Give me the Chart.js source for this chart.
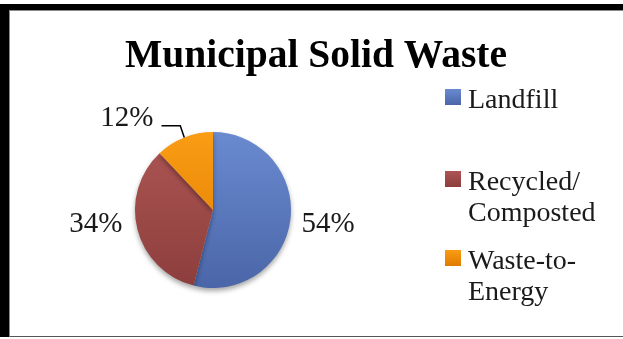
<!DOCTYPE html>
<html>
<head>
<meta charset="utf-8">
<script src="https://cdn.jsdelivr.net/npm/chart.js"></script>
<style>
  html, body { margin: 0; padding: 0; background: #fff; }
  #wrap { position: relative; width: 623px; height: 339px; overflow: hidden; }
  #frame {
    position: absolute; left: 0; top: 4px; right: 0; bottom: 2px;
    border-top: 6px solid #000; border-left: 9px solid #000;
  }
  #inner {
    position: absolute; left: 0; top: 0; right: -1px; bottom: 0;
    border-top: 1px solid #8a8a8a; border-left: 1px solid #8a8a8a; border-bottom: 1px solid #555;
  }
  canvas { position: absolute; left: 0; top: 0; }
</style>
</head>
<body>
<div id="wrap">
  <div id="frame"><div id="inner"></div></div>
  <canvas id="wasteChart" width="623" height="339"></canvas>
</div>
<script>
// Municipal solid waste by disposal route (share of total, %)
var categories = [['Landfill'], ['Recycled/', 'Composted'], ['Waste-to-', 'Energy']];
var shares = [54, 34, 12];

// top / bottom colours of each slice's shading
var sliceTop = ['#6A8AD0', '#AD5654', '#FA9C14'];
var sliceBottom = ['#4A66A8', '#8C3E3C', '#DE7C00'];

var serif = '"Liberation Serif", "Times New Roman", serif';

function sliceFill(context) {
    var i = context.dataIndex;
    var area = context.chart.chartArea;
    if (!area) {
        return sliceTop[i];
    }
    var g = context.chart.ctx.createLinearGradient(0, area.top, 0, area.bottom);
    g.addColorStop(0, sliceTop[i]);
    g.addColorStop(1, sliceBottom[i]);
    return g;
}

// soft shadow under the pie
var pieShadow = {
    id: 'pieShadow',
    beforeDatasetsDraw: function(chart) {
        var ctx = chart.ctx;
        ctx.save();
        ctx.shadowColor = 'rgba(0, 0, 0, 0.35)';
        ctx.shadowBlur = 5;
        ctx.shadowOffsetY = 3;
    },
    afterDatasetsDraw: function(chart) {
        chart.ctx.restore();
    }
};

// title, percentage labels and the legend on the right
var decorations = {
    id: 'decorations',
    afterDraw: function(chart, args, opts) {
        var ctx = chart.ctx;
        var meta = chart.getDatasetMeta(0);
        var total = shares.reduce(function(a, b) { return a + b; }, 0);

        ctx.save();
        ctx.fillStyle = '#000';
        ctx.textAlign = 'center';
        ctx.textBaseline = 'alphabetic';
        ctx.font = 'bold 39.5px ' + serif;
        ctx.fillText('Municipal Solid Waste', 316, 67);

        // percentage labels, outside end of each slice
        ctx.font = '29px ' + serif;
        ctx.fillStyle = '#1a1a1a';
        ctx.textBaseline = 'middle';
        meta.data.forEach(function(arc, i) {
            var p = arc.getProps(['x', 'y', 'startAngle', 'endAngle', 'outerRadius'], true);
            var mid = (p.startAngle + p.endAngle) / 2;
            var dx = Math.cos(mid), dy = Math.sin(mid);
            var text = Math.round(shares[i] / total * 100) + '%';
            var hw = ctx.measureText(text).width / 2, hh = 12;
            var r = p.outerRadius + 10 + hw * Math.abs(dx) + hh * Math.abs(dy);
            var nudge = opts.nudges[i];
            var cx = p.x + r * dx + nudge[0];
            var cy = p.y + r * dy + nudge[1];
            ctx.fillText(text, cx, cy);

            if (opts.leaders[i]) {
                var ex = p.x + p.outerRadius * dx;
                var ey = p.y + p.outerRadius * dy;
                ctx.strokeStyle = '#000';
                ctx.lineWidth = 1.5;
                ctx.beginPath();
                ctx.moveTo(cx + hw + 8, cy + 7);
                ctx.lineTo(ex - 4, cy + 7);
                ctx.lineTo(ex, ey);
                ctx.stroke();
            }
        });

        // legend
        ctx.font = '28px ' + serif;
        ctx.textAlign = 'left';
        ctx.textBaseline = 'alphabetic';
        categories.forEach(function(lines, i) {
            var base = opts.legendRows[i];
            var g = ctx.createLinearGradient(0, base - 19, 0, base - 3);
            g.addColorStop(0, sliceTop[i]);
            g.addColorStop(1, sliceBottom[i]);
            ctx.fillStyle = g;
            ctx.fillRect(445, base - 19, 16, 16);
            ctx.fillStyle = '#1a1a1a';
            lines.forEach(function(line, j) {
                ctx.fillText(line, 468, base + j * 31);
            });
        });
        ctx.restore();
    }
};

new Chart(document.getElementById('wasteChart'), {
    type: 'pie',
    data: {
        labels: categories,
        datasets: [{
            data: shares,
            backgroundColor: sliceFill,
            borderWidth: 0,
            hoverOffset: 0
        }]
    },
    options: {
        responsive: false,
        animation: false,
        events: [],
        radius: 78,
        layout: { padding: { left: 135, right: 332, top: 132, bottom: 51 } },
        plugins: {
            legend: { display: false },
            title: { display: false },
            tooltip: { enabled: false },
            decorations: {
                nudges: [[0, 0], [-4, -15], [-46, 10]],
                leaders: [false, false, true],
                legendRows: [108, 190, 269]
            }
        }
    },
    plugins: [pieShadow, decorations]
});
</script>
</body>
</html>
